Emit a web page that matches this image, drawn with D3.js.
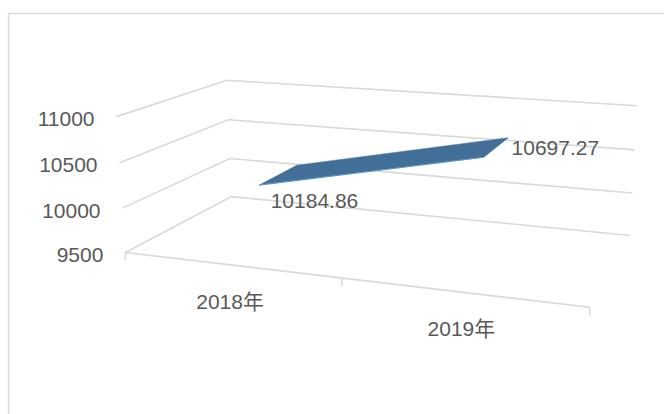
<!DOCTYPE html>
<html>
<head>
<meta charset="utf-8">
<script src="https://cdn.jsdelivr.net/npm/d3@7"></script>
<style>
  html, body { margin: 0; padding: 0; background: #ffffff; }
  svg { display: block; }
  text { font-family: "Liberation Sans", Arial, "Noto Sans CJK SC", sans-serif; fill: #595959; }
</style>
</head>
<body>
<svg id="chart" width="664" height="414"></svg>
<script>
// ---- data ----
const categories = ["2018年", "2019年"];
const values = [10184.86, 10697.27];
const valueTicks = [9500, 10000, 10500, 11000];

// ---- 3D frame calibration (box corners in unit coords u,d,h -> screen) ----
// u: along category axis, d: depth (0 front, 1 back), h: value height
const frameAnchors = [
  [0, 0, 1, 116.7, 116.7], [0, 0, 2/3, 120, 163.3], [0, 0, 1/3, 121.7, 208.3], [0, 0, 0, 125.5, 252],
  [0, 1, 1, 226.7, 80], [0, 1, 2/3, 228.3, 120], [0, 1, 1/3, 230, 158.3], [0, 1, 0, 231.7, 196.7],
  [1, 1, 1, 636.7, 105.5], [1, 1, 2/3, 635, 150], [1, 1, 1/3, 632.3, 193.3], [1, 1, 0, 630, 235.7],
  [1, 0, 0, 590, 306.7], [0.5, 0, 0, 341.7, 278.3]
];

function solveDLT(pts) {
  const A = [], b = [];
  pts.forEach(([u, d, h, x, y]) => {
    A.push([u, d, h, 1, 0, 0, 0, 0, -x*u, -x*d, -x*h]); b.push(x);
    A.push([0, 0, 0, 0, u, d, h, 1, -y*u, -y*d, -y*h]); b.push(y);
  });
  const n = 11;
  const M = [];
  for (let i = 0; i < n; i++) {
    const row = [];
    for (let j = 0; j < n; j++) {
      let s = 0; for (let k = 0; k < A.length; k++) s += A[k][i] * A[k][j];
      row.push(s);
    }
    let s = 0; for (let k = 0; k < A.length; k++) s += A[k][i] * b[k];
    row.push(s);
    M.push(row);
  }
  for (let c = 0; c < n; c++) {
    let piv = c;
    for (let r = c + 1; r < n; r++) if (Math.abs(M[r][c]) > Math.abs(M[piv][c])) piv = r;
    [M[c], M[piv]] = [M[piv], M[c]];
    for (let r = 0; r < n; r++) {
      if (r === c) continue;
      const f = M[r][c] / M[c][c];
      for (let j = c; j <= n; j++) M[r][j] -= f * M[c][j];
    }
  }
  return M.map((row, i) => row[n] / row[i]);
}
const P = solveDLT(frameAnchors);
function project(u, d, h) {
  const w = P[8]*u + P[9]*d + P[10]*h + 1;
  return [(P[0]*u + P[1]*d + P[2]*h + P[3]) / w, (P[4]*u + P[5]*d + P[6]*h + P[7]) / w];
}

// ---- scales ----
const hScale = d3.scaleLinear().domain([9500, 11000]).range([0, 1]);
const uScale = d3.scalePoint().domain(categories).range([0, 1]).padding(0.5);
const ribbonDepth = [0.3, 0.7];

const svg = d3.select("#chart");

// chart border
svg.append("rect")
  .attr("x", 8.5).attr("y", 13.5).attr("width", 700).attr("height", 450)
  .attr("fill", "none").attr("stroke", "#d9d9d9").attr("stroke-width", 1.5);

const line = d3.line();

// gridlines on side and back walls
const grid = svg.append("g");
valueTicks.forEach(t => {
  const h = hScale(t);
  grid.append("path")
    .attr("d", line([project(0, 0, h), project(0, 1, h), project(1, 1, h)]))
    .attr("fill", "none").attr("stroke", "#d9d9d9").attr("stroke-width", 1.6);
});

// floor front edge (category axis) and ticks
grid.append("path")
  .attr("d", line([project(0, 0, 0), project(1, 0, 0)]))
  .attr("fill", "none").attr("stroke", "#d9d9d9").attr("stroke-width", 1.6);
d3.range(categories.length + 1).map(i => i / categories.length).forEach(u => {
  const p = project(u, 0, 0);
  grid.append("path")
    .attr("d", line([p, [p[0], p[1] + 8]]))
    .attr("fill", "none").attr("stroke", "#d9d9d9").attr("stroke-width", 1.6);
});

// value axis labels
valueTicks.forEach(t => {
  const p = project(0, 0, hScale(t));
  svg.append("text")
    .attr("x", p[0] - 22).attr("y", p[1] + 2)
    .attr("text-anchor", "end").attr("dominant-baseline", "central")
    .attr("font-size", 21)
    .text(t);
});

// category labels
categories.forEach(c => {
  const p = project(uScale(c), 0, 0);
  svg.append("text")
    .attr("x", p[0]).attr("y", p[1] + 44)
    .attr("text-anchor", "middle")
    .attr("font-size", 21)
    .text(c);
});

// ribbon (3D line)
for (let i = 0; i < values.length - 1; i++) {
  const u1 = uScale(categories[i]), u2 = uScale(categories[i + 1]);
  const h1 = hScale(values[i]), h2 = hScale(values[i + 1]);
  const poly = [
    project(u1, ribbonDepth[0], h1), project(u2, ribbonDepth[0], h2),
    project(u2, ribbonDepth[1], h2), project(u1, ribbonDepth[1], h1)
  ];
  svg.append("path")
    .attr("d", line(poly) + "Z")
    .attr("fill", "#426f98").attr("stroke", "#426f98").attr("stroke-width", 0.5);
  svg.append("path")
    .attr("d", line([poly[0], poly[1]]))
    .attr("fill", "none").attr("stroke", "#5b9bd5").attr("stroke-width", 1);
}

// data labels
const fmt = d3.format(".2f");
values.forEach((v, i) => {
  const u = uScale(categories[i]);
  const p = project(u, (ribbonDepth[0] + ribbonDepth[1]) / 2, hScale(v));
  const last = i === values.length - 1;
  svg.append("text")
    .attr("x", last ? p[0] + 15 : p[0] - 8)
    .attr("y", last ? p[1] + 8 : p[1] + 33)
    .attr("text-anchor", "start")
    .attr("font-size", 21)
    .text(fmt(v));
});
</script>
</body>
</html>
